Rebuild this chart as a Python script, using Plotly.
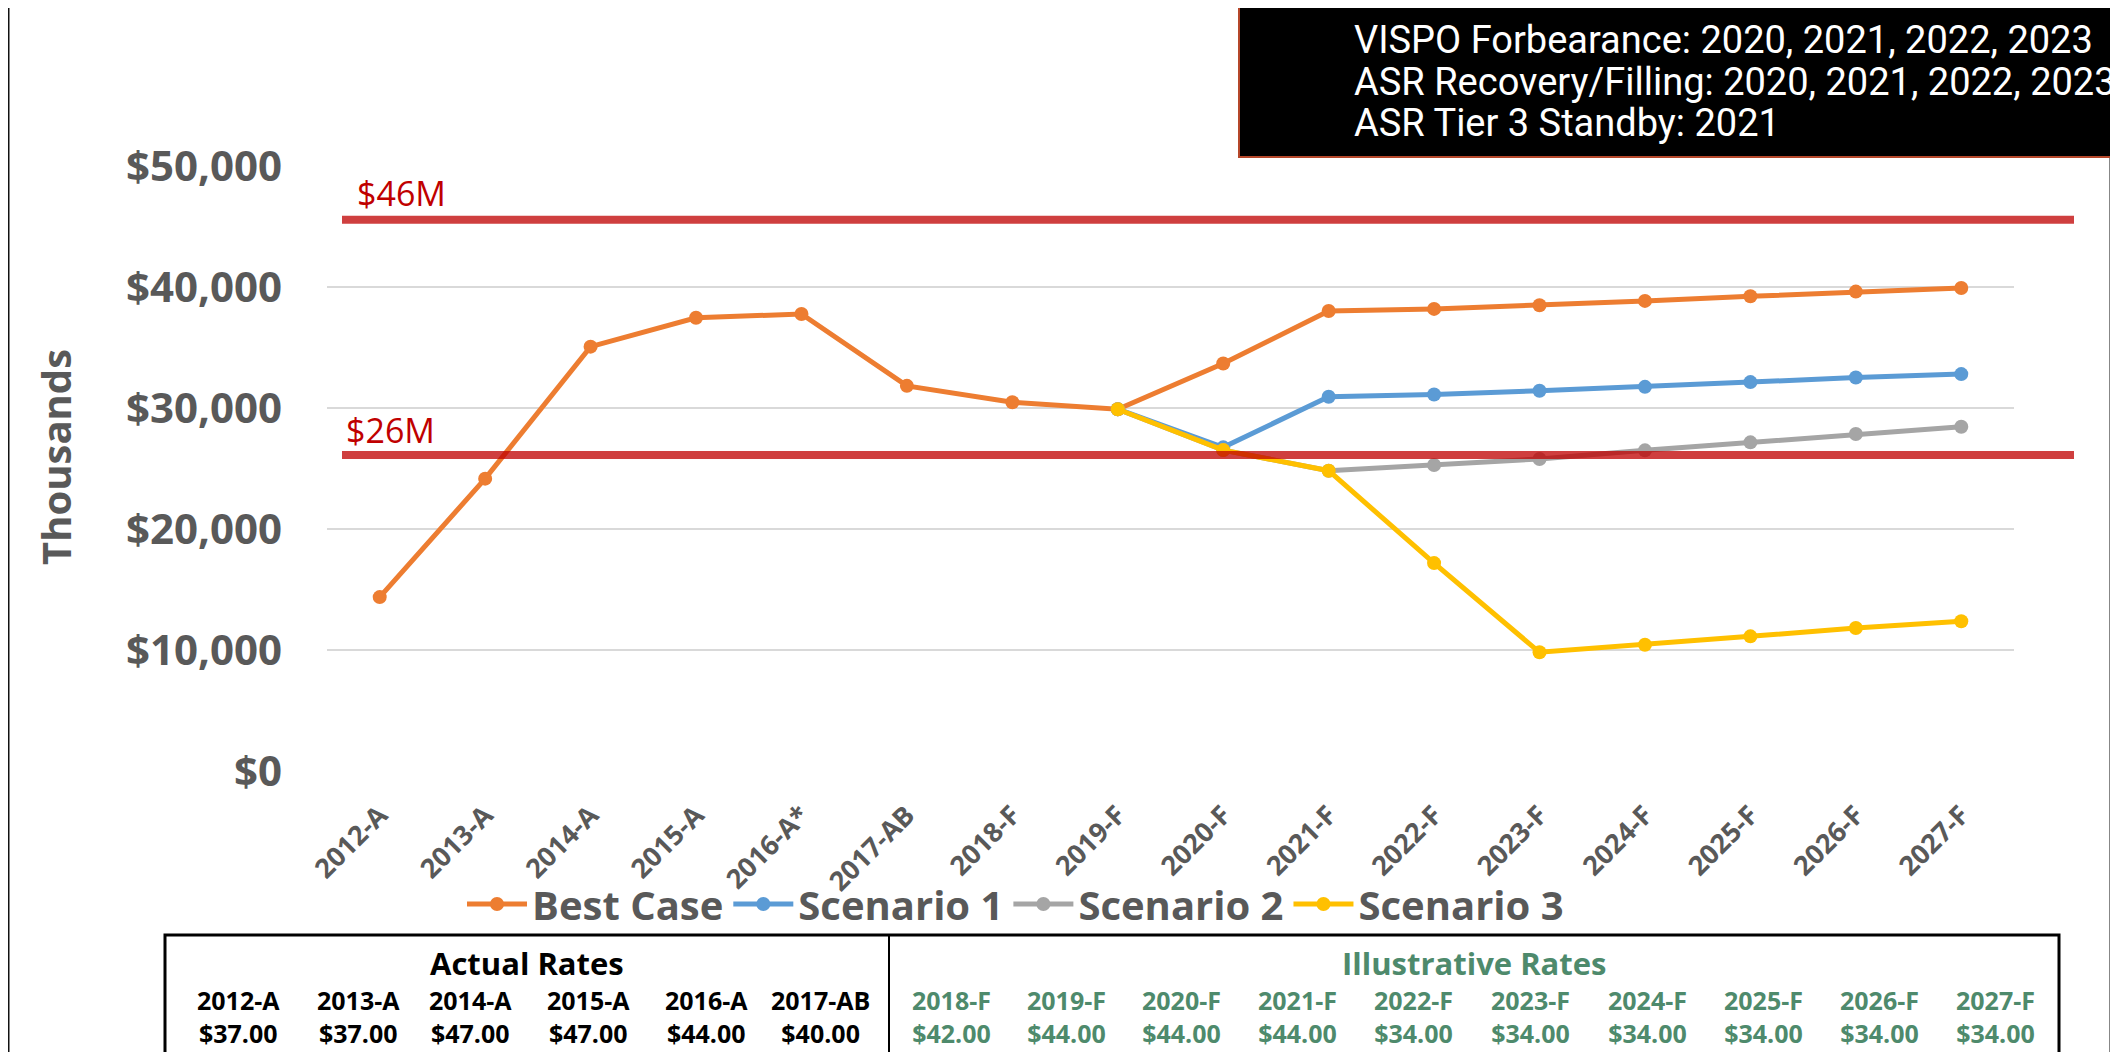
import plotly.graph_objects as go

OFF = 8  # browser body margin
W, H = 2118 - OFF, 1052 - OFF
# plot area in screen pixels
SL, SR, ST, SB = 327, 2014, 166, 771
L, R, T, B = SL - OFF, SR - OFF, ST - OFF, SB - OFF

categories = ["2012-A", "2013-A", "2014-A", "2015-A", "2016-A*", "2017-AB", "2018-F", "2019-F",
              "2020-F", "2021-F", "2022-F", "2023-F", "2024-F", "2025-F", "2026-F", "2027-F"]

best_case = [14370, 24160, 35070, 37460, 37770, 31830, 30480, 29900,
             33680, 38020, 38190, 38490, 38850, 39230, 39620, 39920]
scenario1 = [None, None, None, None, None, None, None, 29900,
             26750, 30930, 31120, 31420, 31750, 32140, 32520, 32800]
scenario2 = [None, None, None, None, None, None, None, 29900,
             26520, 24820, 25290, 25790, 26500, 27160, 27850, 28450]
scenario3 = [None, None, None, None, None, None, None, 29900,
             26520, 24820, 17180, 9810, 10440, 11130, 11820, 12370]

thresholds = [45550, 26110]
threshold_labels = ["$46M", "$26M"]

series_names = ["Best Case", "Scenario 1", "Scenario 2", "Scenario 3"]
series_colors = ["#ED7D31", "#5B9BD5", "#A5A5A5", "#FFC000"]

box_lines = ["VISPO Forbearance: 2020, 2021, 2022, 2023",
             "ASR Recovery/Filling: 2020, 2021, 2022, 2023",
             "ASR Tier 3 Standby: 2021"]

actual_years = ["2012-A", "2013-A", "2014-A", "2015-A", "2016-A", "2017-AB"]
actual_rates = ["$37.00", "$37.00", "$47.00", "$47.00", "$44.00", "$40.00"]
illus_years = ["2018-F", "2019-F", "2020-F", "2021-F", "2022-F", "2023-F", "2024-F", "2025-F", "2026-F", "2027-F"]
illus_rates = ["$42.00", "$44.00", "$44.00", "$44.00", "$34.00", "$34.00", "$34.00", "$34.00", "$34.00", "$34.00"]

YMAX = 50000


def px(xs):
    """screen x pixel -> paper fraction"""
    return (xs - SL) / (SR - SL)


def py(ys):
    """screen y pixel -> paper fraction"""
    return (SB - ys) / (SB - ST)


GRAY = "#595959"
GREEN = "#4E8A6C"
FONT = "Open Sans"

fig = go.Figure()
for name, vals, col in zip(series_names, [best_case, scenario1, scenario2, scenario3], series_colors):
    fig.add_trace(go.Scatter(
        x=categories, y=vals, name=name, mode="lines+markers",
        line=dict(color=col, width=5), marker=dict(color=col, size=14),
        connectgaps=False,
    ))

shapes = []
# white panel
shapes.append(dict(type="rect", xref="paper", yref="paper", x0=px(8), x1=px(2111), y0=py(1070), y1=py(3),
                   fillcolor="white", line=dict(color="#111111", width=3), layer="below"))
# threshold lines
for v in thresholds:
    yy = v / YMAX
    shapes.append(dict(type="line", xref="paper", yref="paper", x0=px(342), x1=px(2074), y0=yy, y1=yy,
                       line=dict(color="#C00000", width=8), opacity=0.75, layer="above"))
# black box
shapes.append(dict(type="rect", xref="paper", yref="paper", x0=px(1239), x1=px(2140), y0=py(157), y1=py(-20),
                   fillcolor="black", line=dict(color="#B5472A", width=2), layer="above"))
# table
shapes.append(dict(type="rect", xref="paper", yref="paper", x0=px(165), x1=px(2059), y0=py(1075), y1=py(935),
                   fillcolor="rgba(0,0,0,0)", line=dict(color="black", width=3), layer="above"))
shapes.append(dict(type="line", xref="paper", yref="paper", x0=px(889), x1=px(889), y0=py(935), y1=py(1075),
                   line=dict(color="black", width=2), layer="above"))

ann = []
for i, t in enumerate(box_lines):
    ann.append(dict(text=t, xref="paper", yref="paper", x=px(1352), y=py(40 + i * 41.5), xanchor="left",
                    yanchor="middle", showarrow=False, font=dict(family="Roboto", size=38, color="white")))
label_pos = [(355, 193), (344, 430)]
for t, (lx, ly) in zip(threshold_labels, label_pos):
    ann.append(dict(text=t, xref="paper", yref="paper", x=px(lx), y=py(ly), xanchor="left", yanchor="middle",
                    showarrow=False, font=dict(family=FONT, size=34, color="#C00000")))
ann.append(dict(text="<b>Thousands</b>", xref="paper", yref="paper", x=px(55), y=py(457), textangle=-90,
                xanchor="center", yanchor="middle", showarrow=False, font=dict(family=FONT, size=40, color=GRAY)))
# table text
ann.append(dict(text="<b>Actual Rates</b>", xref="paper", yref="paper", x=px(527), y=py(963), showarrow=False,
                xanchor="center", yanchor="middle", font=dict(family=FONT, size=31, color="black")))
ann.append(dict(text="<b>Illustrative Rates</b>", xref="paper", yref="paper", x=px(1474), y=py(963), showarrow=False,
                xanchor="center", yanchor="middle", font=dict(family=FONT, size=31, color=GREEN)))
actual_x = [238, 358, 470, 588, 706, 820]
illus_x = [951, 1066, 1181, 1297, 1413, 1530, 1647, 1763, 1879, 1995]
for xs, yrs, rts, col in [(actual_x, actual_years, actual_rates, "black"), (illus_x, illus_years, illus_rates, GREEN)]:
    for cx, yr, rt in zip(xs, yrs, rts):
        ann.append(dict(text=f"<b>{yr}</b><br><b>{rt}</b>", xref="paper", yref="paper", x=px(cx), y=py(1016),
                        showarrow=False, xanchor="center", yanchor="middle", align="center",
                        font=dict(family=FONT, size=25, color=col)))

fig.update_layout(
    width=W, height=H,
    margin=dict(l=L, r=W - R, t=T, b=H - B),
    paper_bgcolor="#E4EBCF", plot_bgcolor="white",
    shapes=shapes, annotations=ann,
    showlegend=True,
    legend=dict(orientation="h", x=px(462), xanchor="left", y=py(904), yanchor="middle",
                font=dict(family=FONT, size=40, color=GRAY, weight="bold"), bgcolor="rgba(0,0,0,0)",
                itemwidth=60, tracegroupgap=0),
    xaxis=dict(type="category", categoryorder="array", categoryarray=categories, range=[-0.5, 15.5],
               tickangle=-45, tickfont=dict(family=FONT, size=27, color=GRAY, weight="bold"),
               showgrid=False, showline=False, ticks="", zeroline=False, ticklabelstandoff=22),
    yaxis=dict(range=[0, YMAX], dtick=10000, tickprefix="$", tickformat=",d",
               tickfont=dict(family=FONT, size=42, color=GRAY, weight="bold"),
               gridcolor="#D9D9D9", gridwidth=2, zeroline=False, showline=False, ticks="",
               ticklabelstandoff=44),
)

fig.write_html("out.html")
